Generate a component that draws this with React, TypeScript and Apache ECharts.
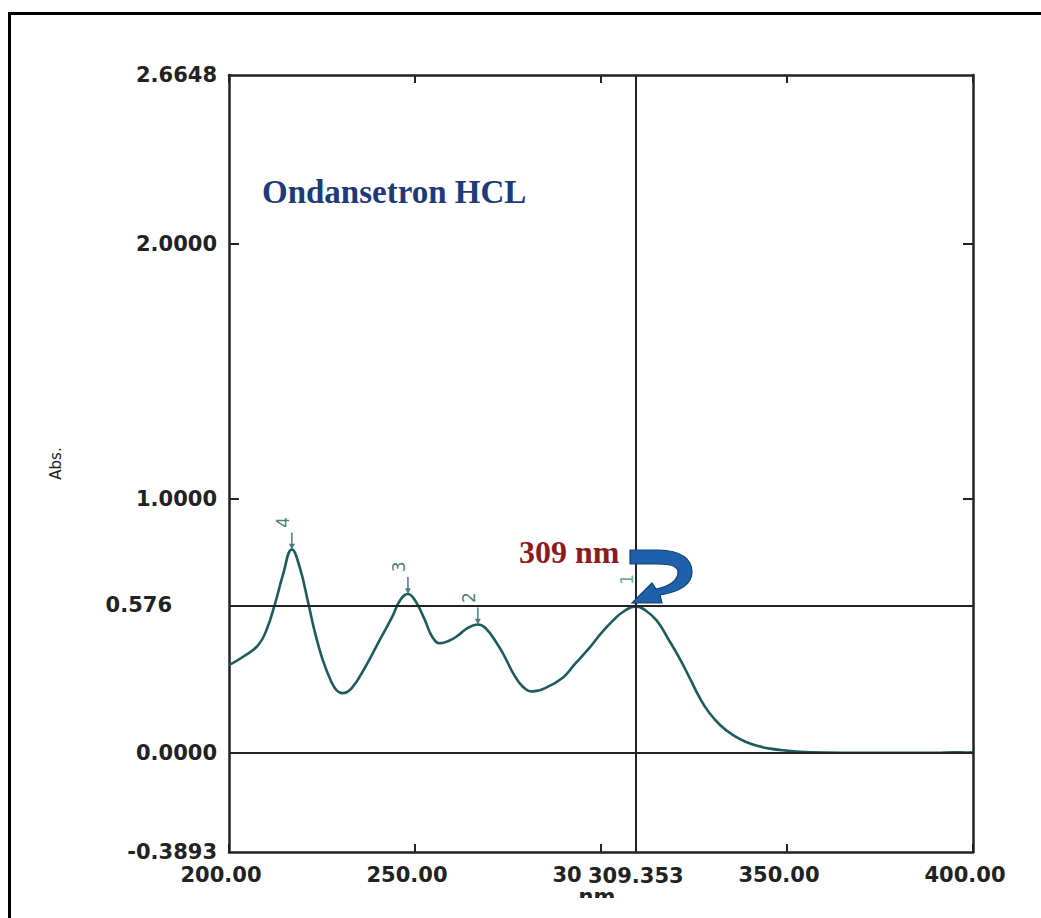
import React, { useEffect, useRef } from "react";
import * as echarts from "echarts";

// Spectrum (wavelength nm, absorbance)
const wavelengths = [200, 204, 207.8, 210, 212.4, 214.5, 216.9, 219, 221.3, 223, 225.1, 227.5, 229, 230.5, 233, 236.6, 240, 243.8, 246, 248.1, 250, 252.7, 254.5, 256.7, 259, 261.6, 264, 266.9, 269, 272, 274.2, 276.4, 279, 281.7, 285, 289.8, 293, 297, 300, 303.2, 306, 309.353, 312, 315, 318, 321.2, 324, 326.6, 329, 332, 335.5, 339.2, 342, 345.4, 350, 353.5, 360, 370, 380, 390, 395, 398, 400];
const absorbance = [0.345, 0.38, 0.423, 0.48, 0.588, 0.70, 0.80, 0.73, 0.59, 0.48, 0.37, 0.28, 0.245, 0.235, 0.255, 0.337, 0.43, 0.533, 0.60, 0.625, 0.60, 0.521, 0.46, 0.431, 0.44, 0.462, 0.49, 0.505, 0.49, 0.431, 0.376, 0.313, 0.26, 0.242, 0.255, 0.297, 0.35, 0.415, 0.47, 0.52, 0.555, 0.576, 0.56, 0.52, 0.45, 0.37, 0.29, 0.215, 0.16, 0.11, 0.07, 0.042, 0.028, 0.017, 0.009, 0.005, 0.002, 0.001, 0.001, 0.001, 0.003, 0.002, 0.003];

const peakNumbers = ["4", "3", "2", "1"];
const peakWavelengths = [216.9, 248.1, 266.9, 309.353];
const peakValues = [0.80, 0.625, 0.505, 0.576];

const yTickValues = [-0.3893, 0, 1, 2, 2.6648];
const yMin = -0.3893;
const yMax = 2.6648;
const xMin = 200;
const xMax = 400;
const maxWavelength = 309.353;
const maxAbs = 0.576;

const title = "Ondansetron HCL";
const annotation = "309 nm";

const ARROW_D =
  "M0,0 L28,0 C52,0 62,10 62,22 C62,34 50,42 30,45 L32,53 L2,53 L22,33 L26,39 C40,36 48,30 48,22 C48,16 40,14 28,14 L0,14 Z";

let registered = false;

export default function App() {
  const ref = useRef<HTMLDivElement>(null);
  useEffect(() => {
    if (!ref.current) return;
    if (!registered) {
      echarts.graphic.registerShape("logo", echarts.graphic.extendPath(ARROW_D, {}) as any);
      registered = true;
    }
    const chart = echarts.init(ref.current, null, { renderer: "svg" });
    const labelFont = { fontFamily: "DejaVu Sans", fontSize: 21, fontWeight: "bold" as const, color: "#222" };
    const axisLine = { show: true, onZero: false, lineStyle: { color: "#222", width: 2.5 } };
    const lineData = wavelengths.map((w, i) => [w, absorbance[i]]);
    const peakData = peakNumbers.map((n, i) => {
      const green = n === "1";
      return {
        value: [peakWavelengths[i], peakValues[i], n],
        itemStyle: { color: green ? "#4a9a5a" : "#1e5b5e" },
        label: { color: green ? "#4a9a5a" : "#1e5b5e" },
      };
    });
    chart.setOption({
      animation: false,
      backgroundColor: "#fff",
      grid: { left: 229, top: 75, right: 68, bottom: 66 },
      xAxis: [
        {
          type: "value",
          min: xMin,
          max: xMax,
          interval: 50,
          position: "bottom",
          name: "nm.",
          nameLocation: "middle",
          nameGap: 34,
          nameMoveOverlap: false,
          nameTextStyle: { ...labelFont },
          axisLine,
          axisTick: { show: true, inside: true, length: 8, lineStyle: { color: "#222", width: 2 } },
          axisLabel: {
            ...labelFont,
            margin: 12,
            padding: [0, 16, 0, 0],
            showMinLabel: true,
            showMaxLabel: true,
            formatter: (v: number) => (v === 300 ? "{p|30}" : v.toFixed(2)),
            rich: { p: { ...labelFont, padding: [0, 52, 0, 0] } },
          },
          splitLine: { show: false },
        },
        {
          type: "value",
          min: xMin,
          max: xMax,
          interval: 50,
          position: "top",
          axisLine,
          axisTick: { show: true, inside: true, length: 8, lineStyle: { color: "#222", width: 2 } },
          axisLabel: { show: false },
          splitLine: { show: false },
        },
      ],
      yAxis: [
        {
          type: "value",
          min: yMin,
          max: yMax,
          position: "left",
          name: "Abs.",
          nameLocation: "middle",
          nameRotate: 90,
          nameGap: 166,
          nameMoveOverlap: false,
          nameTextStyle: { fontFamily: "DejaVu Sans", fontSize: 15, color: "#222" },
          axisLine,
          axisTick: { show: true, inside: true, length: 10, customValues: [1, 2], lineStyle: { color: "#222", width: 2 } },
          axisLabel: { ...labelFont, margin: 12, customValues: yTickValues, formatter: (v: number) => v.toFixed(4) },
          splitLine: { show: false },
        },
        {
          type: "value",
          min: yMin,
          max: yMax,
          position: "right",
          axisLine,
          axisTick: { show: true, inside: true, length: 10, customValues: [1, 2], lineStyle: { color: "#222", width: 2 } },
          axisLabel: { show: false },
          splitLine: { show: false },
        },
      ],
      series: [
        {
          type: "line",
          xAxisIndex: 0,
          yAxisIndex: 0,
          data: lineData,
          smooth: 0.45,
          showSymbol: false,
          lineStyle: { color: "#1e5b5e", width: 2.6 },
          z: 3,
          markLine: {
            silent: true,
            symbol: "none",
            lineStyle: { color: "#222", width: 2, type: "solid" },
            data: [
              {
                xAxis: maxWavelength,
                label: {
                  show: true,
                  position: "start",
                  distance: 11,
                  formatter: maxWavelength.toFixed(3),
                  ...labelFont,
                  backgroundColor: "#fff",
                  padding: [2, 3, 2, 3],
                },
              },
              {
                yAxis: maxAbs,
                label: { show: true, position: "start", distance: 57, formatter: String(maxAbs), ...labelFont },
              },
              { yAxis: 0, label: { show: false } },
            ],
          },
        },
        {
          type: "scatter",
          xAxisIndex: 0,
          yAxisIndex: 0,
          data: peakData,
          symbol: "path://M3,0 L5,0 L5,12 L8,12 L4,18 L0,12 L3,12 Z",
          symbolSize: [6, 17],
          symbolOffset: [0, -8.5],
          z: 4,
          label: {
            show: true,
            position: "top",
            distance: 10,
            rotate: 90,
            fontFamily: "DejaVu Sans",
            fontSize: 17,
            formatter: (p: any) => p.value[2],
          },
        },
      ],
      graphic: [
        {
          type: "rect",
          shape: { x: 9.5, y: 13.5, width: 1100, height: 1000 },
          style: { fill: "none", stroke: "#000", lineWidth: 3 },
          silent: true,
        },
        {
          type: "text",
          left: 262,
          top: 175,
          style: { text: title, font: "bold 33px 'Liberation Serif'", fill: "#1f3a78" },
        },
        {
          type: "text",
          left: 519,
          top: 536,
          style: { text: annotation, font: "bold 32px 'Liberation Serif'", fill: "#8b1c1c" },
        },
        {
          type: "logo",
          x: 630,
          y: 550,
          scaleX: 1,
          scaleY: 1,
          z: 10,
          style: { fill: "#1f60aa", stroke: "#163f73", lineWidth: 1.2 },
        },
        {
          type: "rect",
          shape: { x: 540, y: 898, width: 160, height: 20 },
          style: { fill: "#fff" },
          z: 20,
          silent: true,
        },
      ],
    });
    return () => chart.dispose();
  }, []);
  return <div ref={ref} style={{ position: "fixed", left: 0, top: 0, width: 1041, height: 918 }} />;
}
